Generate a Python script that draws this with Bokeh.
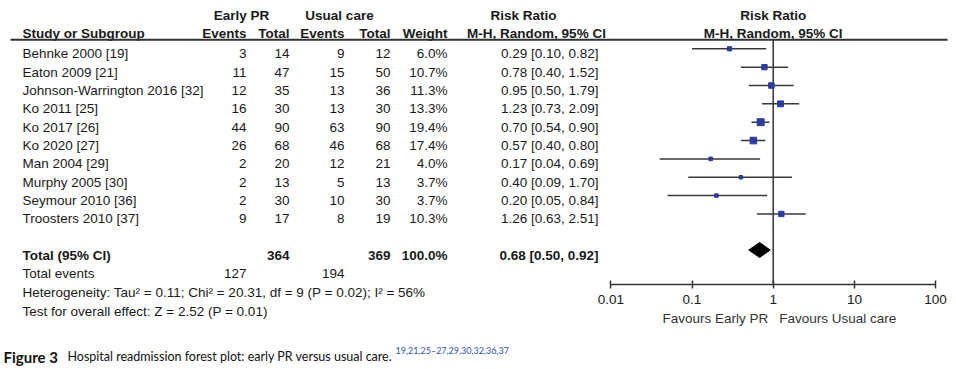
from bokeh.plotting import figure
from bokeh.models import Range1d, LogScale, LogAxis, FixedTicker, CustomJSTickFormatter
from bokeh.core.properties import value
from bokeh.embed import file_html
from bokeh.resources import INLINE

# ---------------- data ----------------
studies = ["Behnke 2000 [19]", "Eaton 2009 [21]", "Johnson-Warrington 2016 [32]",
           "Ko 2011 [25]", "Ko 2017 [26]", "Ko 2020 [27]", "Man 2004 [29]",
           "Murphy 2005 [30]", "Seymour 2010 [36]", "Troosters 2010 [37]"]
early_events = [3, 11, 12, 16, 44, 26, 2, 2, 2, 9]
early_total = [14, 47, 35, 30, 90, 68, 20, 13, 30, 17]
usual_events = [9, 15, 13, 13, 63, 46, 12, 5, 10, 8]
usual_total = [12, 50, 36, 30, 90, 68, 21, 13, 30, 19]
weights = [6.0, 10.7, 11.3, 13.3, 19.4, 17.4, 4.0, 3.7, 3.7, 10.3]
rr = [0.29, 0.78, 0.95, 1.23, 0.70, 0.57, 0.17, 0.40, 0.20, 1.26]
rr_lo = [0.10, 0.40, 0.50, 0.73, 0.54, 0.40, 0.04, 0.09, 0.05, 0.63]
rr_hi = [0.82, 1.52, 1.79, 2.09, 0.90, 0.80, 0.69, 1.70, 0.84, 2.51]

total_early = 364
total_usual = 369
total_weight = 100.0
total_rr = 0.68
total_lo = 0.50
total_hi = 0.92
events_early = 127
events_usual = 194
heterogeneity = "Heterogeneity: Tau\u00b2 = 0.11; Chi\u00b2 = 20.31, df = 9 (P = 0.02); I\u00b2 = 56%"
overall = "Test for overall effect: Z = 2.52 (P = 0.01)"
null_value = 1.0
tick_values = [0.01, 0.1, 1, 10, 100]
favours_left = "Favours Early PR"
favours_right = "Favours Usual care"
caption_bold = "Figure 3"
caption_text = "Hospital readmission forest plot: early PR versus usual care."
caption_refs = "19,21,25\u201327,29,30,32,36,37"

# ---------------- style / layout ----------------
W, H = 956, 369
FONT = "Liberation Sans"
FS = "13.5px"
TXT = "#1a1a1a"
LINE = "#333333"
BLUE = "#2b3c9b"

ROW0 = 48.3
STEP = 18.35
TDY = 5.0
HDR1_Y = 15
HDR2_Y = 33
ULINE_Y = 39.3
TOTAL_Y = 249.5
EVENTS_Y = 273
HET_Y = 292
TEST_Y = 310.5
AXIS_Y = 284.3
FAV_Y = 317.5
CAP_Y = 356

NAME_X, E1_X, T1_X, E2_X, T2_X, W_X, RR_X = 22, 246, 289, 344, 390, 447, 598
DECADE = 81.2
ZERO01 = 610.3

row_y = [ROW0 + STEP * i for i in range(len(studies))]
text_y = [y + TDY for y in row_y]

lo_exp = -2 - ZERO01 / DECADE
hi_exp = lo_exp + W / DECADE

p = figure(width=W, height=H, x_range=Range1d(0, W), y_range=Range1d(H, 0),
           x_axis_type=None, y_axis_type=None, output_backend="svg", toolbar_location=None,
           min_border=0, outline_line_color=None)
p.extra_x_ranges = {"rr": Range1d(10 ** lo_exp, 10 ** hi_exp)}
p.extra_x_scales = {"rr": LogScale()}


def txt(x, y, t, align="left", bold=False, size=FS, color=TXT, font=FONT, rn="default", dx=0):
    p.text(x=x, y=y, text=t, text_align=align, text_baseline="middle",
           text_font=value(font), text_font_size=size,
           text_font_style="bold" if bold else "normal", text_color=color,
           x_range_name=rn, x_offset=dx)


# headers
txt([241], [HDR1_Y], ["Early PR"], "center", True)
txt([339], [HDR1_Y], ["Usual care"], "center", True)
txt([523], [HDR1_Y], ["Risk Ratio"], "center", True)
txt([null_value], [HDR1_Y], ["Risk Ratio"], "center", True, rn="rr")
txt([NAME_X], [HDR2_Y], ["Study or Subgroup"], "left", True)
txt([E1_X, T1_X, E2_X, T2_X, W_X], [HDR2_Y] * 5,
    ["Events", "Total", "Events", "Total", "Weight"], "right", True)
txt([536], [HDR2_Y], ["M-H, Random, 95% CI"], "center", True)
txt([null_value], [HDR2_Y], ["M-H, Random, 95% CI"], "center", True, rn="rr")
p.segment(x0=[10], x1=[947], y0=[ULINE_Y], y1=[ULINE_Y], line_color=LINE, line_width=2)

# study rows
n = len(studies)
txt([NAME_X] * n, text_y, studies)
txt([E1_X] * n, text_y, [str(v) for v in early_events], "right")
txt([T1_X] * n, text_y, [str(v) for v in early_total], "right")
txt([E2_X] * n, text_y, [str(v) for v in usual_events], "right")
txt([T2_X] * n, text_y, [str(v) for v in usual_total], "right")
txt([W_X] * n, text_y, [f"{w:.1f}%" for w in weights], "right")
txt([RR_X] * n, text_y, [f"{r:.2f} [{l:.2f}, {h:.2f}]" for r, l, h in zip(rr, rr_lo, rr_hi)], "right")

# totals
ty = TOTAL_Y + TDY
txt([NAME_X], [ty], ["Total (95% CI)"], "left", True)
txt([T1_X, T2_X, W_X], [ty] * 3,
    [str(total_early), str(total_usual), f"{total_weight:.1f}%"], "right", True)
txt([RR_X], [ty], [f"{total_rr:.2f} [{total_lo:.2f}, {total_hi:.2f}]"], "right", True)
txt([NAME_X], [EVENTS_Y], ["Total events"])
txt([E1_X, E2_X], [EVENTS_Y] * 2, [str(events_early), str(events_usual)], "right")
txt([NAME_X], [HET_Y], [heterogeneity])
txt([NAME_X], [TEST_Y], [overall])

# forest: null line, CIs, squares, diamond
p.segment(x0=[null_value], x1=[null_value], y0=[ULINE_Y], y1=[AXIS_Y], line_color=LINE,
          line_width=1.5, x_range_name="rr")
p.segment(x0=rr_lo, x1=rr_hi, y0=row_y, y1=row_y, line_color="#3a3a3a", line_width=1.5,
          x_range_name="rr")
sizes = [1.4 * w ** 0.5 + 0.8 for w in weights]
p.scatter(x=rr, y=row_y, marker="square", size=sizes, fill_color=BLUE, line_color=BLUE,
          x_range_name="rr")
DH = 7.5
p.patch(x=[total_lo, total_rr, total_hi, total_rr],
        y=[TOTAL_Y, TOTAL_Y - DH, TOTAL_Y, TOTAL_Y + DH], fill_color="black", line_color="black",
        x_range_name="rr")

# log axis drawn at a fixed location inside the frame
ax = LogAxis(x_range_name="rr", fixed_location=AXIS_Y, bounds=(tick_values[0], tick_values[-1]),
             ticker=FixedTicker(ticks=tick_values, minor_ticks=[]),
             formatter=CustomJSTickFormatter(code="return tick.toString();"))
ax.axis_line_color = LINE
ax.axis_line_width = 1.5
ax.major_tick_line_color = LINE
ax.major_tick_line_width = 1.5
ax.major_tick_in = 4
ax.major_tick_out = 4
ax.minor_tick_line_color = None
ax.major_label_text_font = FONT
ax.major_label_text_font_size = FS
ax.major_label_text_color = TXT
ax.major_label_standoff = 6
p.add_layout(ax, "below")

txt([null_value], [FAV_Y], [favours_left], "right", rn="rr", color="#333333", dx=-5)
txt([null_value], [FAV_Y], [favours_right], "left", rn="rr", color="#333333", dx=6)

# caption
txt([3], [CAP_Y], [caption_bold], "left", True, size="15px", color="#111111", font="Lato")
txt([67], [CAP_Y], [caption_text], "left", False, size="12.5px", color="#111111", font="Lato")
txt([395], [CAP_Y - 6], [caption_refs], "left", False, size="9px", color="#2e4fc4", font="Lato")

open("out.html", "w").write(file_html(p, INLINE))
